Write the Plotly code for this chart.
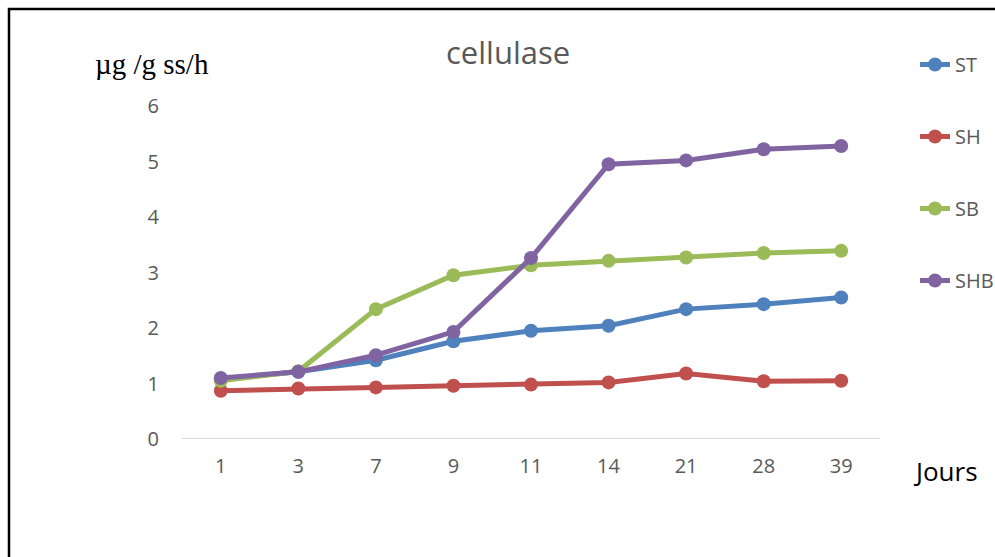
import plotly.graph_objects as go

# Sampling days (categorical axis) and cellulase activity per treatment
jours = ["1", "3", "7", "9", "11", "14", "21", "28", "39"]
st = [1.08, 1.21, 1.42, 1.76, 1.95, 2.04, 2.34, 2.43, 2.55]
sh = [0.87, 0.91, 0.93, 0.96, 0.98, 1.02, 1.18, 1.04, 1.05]
sb = [1.05, 1.22, 2.34, 2.95, 3.13, 3.21, 3.27, 3.35, 3.39]
shb = [1.10, 1.21, 1.51, 1.93, 3.26, 4.95, 5.02, 5.22, 5.28]

series = [
    ("ST", st, "#4F81BD"),
    ("SH", sh, "#C0504D"),
    ("SB", sb, "#9BBB59"),
    ("SHB", shb, "#8064A2"),
]

W, H = 995, 557
L, R, T, B = 182, 115, 106, 118
pw, ph = W - L - R, H - T - B


def px_x(x):
    return (x - L) / pw


def px_y(y):
    return (H - B - y) / ph


fig = go.Figure()
for name, vals, color in series:
    fig.add_trace(go.Scatter(
        x=jours, y=vals, name=name, mode="lines+markers",
        legendgroup=name,
        line=dict(color=color, width=5),
        marker=dict(color=color, size=14),
    ))

gray = "#595959"
fig.update_layout(
    width=W, height=H,
    margin=dict(l=L, r=R, t=T, b=B, autoexpand=False),
    paper_bgcolor="white", plot_bgcolor="white",
    font=dict(family="Open Sans", color=gray),
    showlegend=True,
    legend=dict(
        x=px_x(915), y=px_y(45), xanchor="left", yanchor="top",
        font=dict(size=20, color=gray, family="Open Sans"),
        traceorder="grouped", tracegroupgap=43,
        bgcolor="rgba(0,0,0,0)",
    ),
    xaxis=dict(
        type="category", range=[-0.5, 8.5],
        showgrid=False, zeroline=False,
        showline=False, ticks="",
        tickfont=dict(size=20, color=gray),
        ticklabelstandoff=13,
    ),
    yaxis=dict(
        range=[0, 6], dtick=1, tick0=0,
        showgrid=False, zeroline=False, showline=False, ticks="",
        tickfont=dict(size=20, color=gray),
        ticklabelstandoff=22,
    ),
    shapes=[
        # baseline at zero
        dict(type="line", xref="paper", yref="y", x0=0, x1=1, y0=0, y1=0,
             line=dict(color="#D9D9D9", width=2), layer="below"),
        # chart frame (top and left edges visible)
        dict(type="rect", xref="paper", yref="paper",
             x0=px_x(9), x1=px_x(1200), y0=px_y(900), y1=px_y(9),
             line=dict(color="black", width=2.5)),
    ],
    annotations=[
        dict(text="cellulase", xref="paper", yref="paper",
             x=px_x(508), y=px_y(52), xanchor="center", yanchor="middle",
             showarrow=False, font=dict(size=31, color=gray, family="Open Sans")),
        dict(text="µg /g ss/h", xref="paper", yref="paper",
             x=px_x(93), y=px_y(64), xanchor="left", yanchor="middle",
             showarrow=False,
             font=dict(size=29, color="black", family="Liberation Serif")),
        dict(text="Jours", xref="paper", yref="paper",
             x=px_x(945), y=px_y(471), xanchor="center", yanchor="middle",
             showarrow=False, font=dict(size=26, color="black", family="Open Sans")),
    ],
)

fig.write_html("out.html")
